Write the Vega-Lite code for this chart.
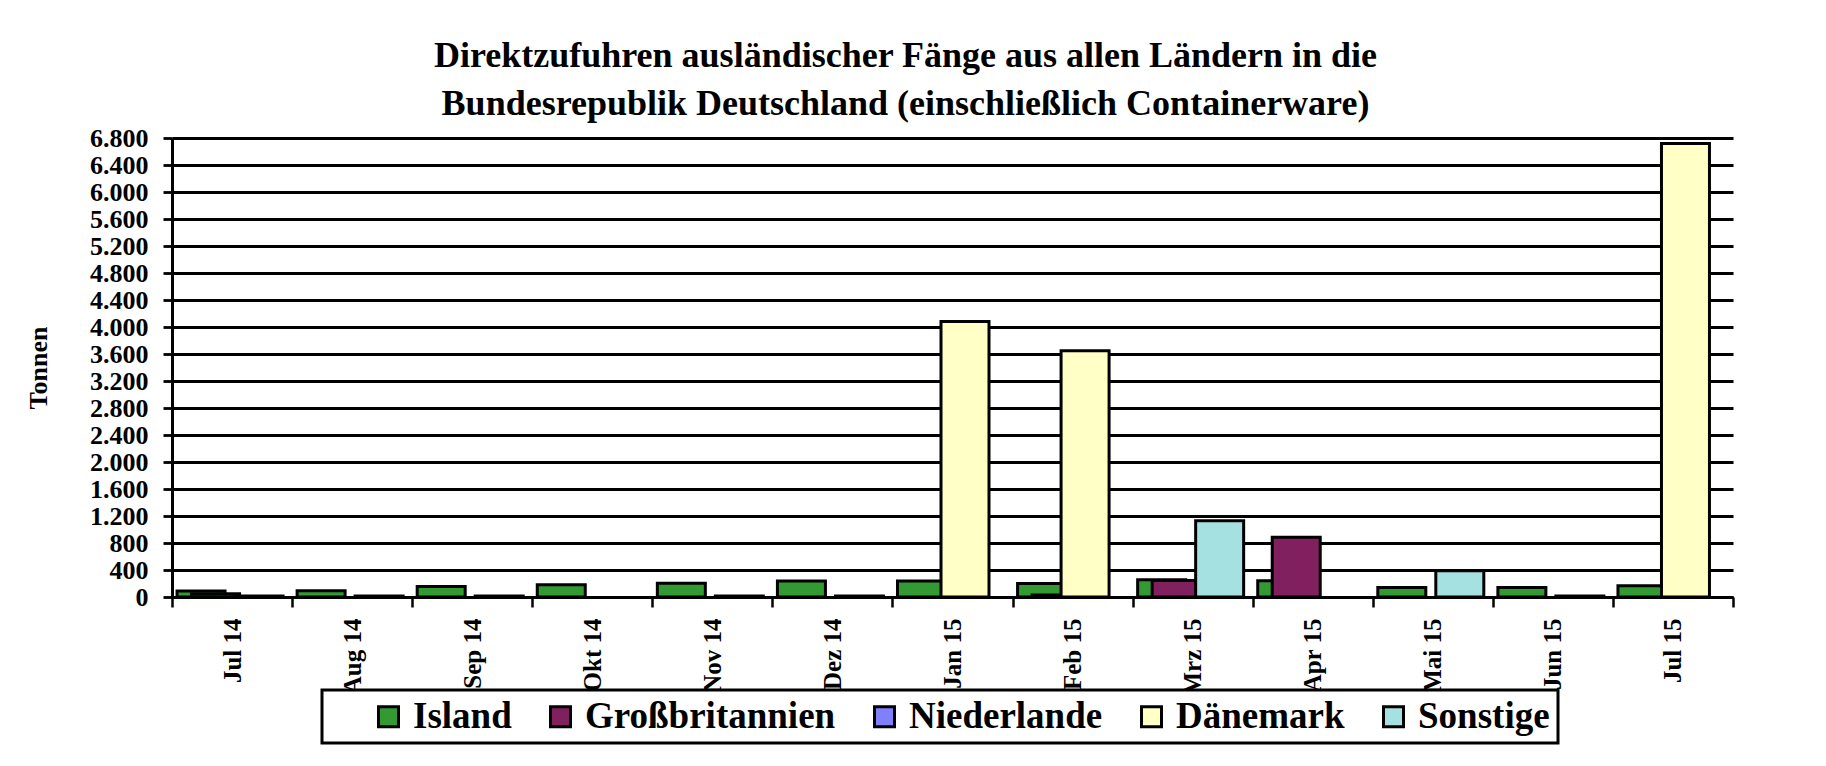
{
  "$schema": "https://vega.github.io/schema/vega-lite/v6.json",
  "autosize": {"type": "none"},
  "width": 1561,
  "height": 459,
  "padding": {"left": 172, "top": 138, "right": 93, "bottom": 169},
  "background": "white",
  "title": {
    "text": ["Direktzufuhren ausländischer Fänge aus allen Ländern in die", "Bundesrepublik Deutschland (einschließlich Containerware)"],
    "font": "Liberation Serif",
    "fontSize": 36,
    "fontWeight": "bold",
    "color": "black",
    "lineHeight": 48,
    "anchor": "middle",
    "frame": "group",
    "dx": -47,
    "offset": 2
  },
  "data": {
    "values": [
      {"month": "Jul 14", "series": "Island", "value": 90},
      {"month": "Jul 14", "series": "Großbritannien", "value": 50},
      {"month": "Jul 14", "series": "Sonstige", "value": 15},
      {"month": "Aug 14", "series": "Island", "value": 92},
      {"month": "Aug 14", "series": "Sonstige", "value": 15},
      {"month": "Sep 14", "series": "Island", "value": 155},
      {"month": "Sep 14", "series": "Sonstige", "value": 15},
      {"month": "Okt 14", "series": "Island", "value": 180},
      {"month": "Nov 14", "series": "Island", "value": 205},
      {"month": "Nov 14", "series": "Sonstige", "value": 15},
      {"month": "Dez 14", "series": "Island", "value": 237},
      {"month": "Dez 14", "series": "Sonstige", "value": 15},
      {"month": "Jan 15", "series": "Island", "value": 237},
      {"month": "Jan 15", "series": "Dänemark", "value": 4080},
      {"month": "Feb 15", "series": "Island", "value": 200},
      {"month": "Feb 15", "series": "Großbritannien", "value": 30},
      {"month": "Feb 15", "series": "Dänemark", "value": 3650},
      {"month": "Mrz 15", "series": "Island", "value": 255},
      {"month": "Mrz 15", "series": "Großbritannien", "value": 245},
      {"month": "Mrz 15", "series": "Sonstige", "value": 1130},
      {"month": "Apr 15", "series": "Island", "value": 240},
      {"month": "Apr 15", "series": "Großbritannien", "value": 885},
      {"month": "Mai 15", "series": "Island", "value": 140},
      {"month": "Mai 15", "series": "Sonstige", "value": 388},
      {"month": "Jun 15", "series": "Island", "value": 140},
      {"month": "Jun 15", "series": "Sonstige", "value": 15},
      {"month": "Jul 15", "series": "Island", "value": 168},
      {"month": "Jul 15", "series": "Dänemark", "value": 6720}
    ]
  },
  "encoding": {
    "x": {
      "field": "month",
      "type": "nominal",
      "sort": ["Jul 14", "Aug 14", "Sep 14", "Okt 14", "Nov 14", "Dez 14", "Jan 15", "Feb 15", "Mrz 15", "Apr 15", "Mai 15", "Jun 15", "Jul 15"],
      "scale": {"paddingInner": 0, "paddingOuter": 0},
      "axis": {
        "title": null,
        "tickBand": "extent",
        "labelAngle": 270,
        "labelFontSize": 25,
        "labelFontWeight": "bold",
        "labelColor": "black",
        "labelPadding": 11,
        "tickSize": 10,
        "tickWidth": 2.5,
        "tickColor": "black",
        "domainColor": "black",
        "domainWidth": 3,
        "grid": false
      }
    },
    "y": {
      "field": "value",
      "type": "quantitative",
      "scale": {"domain": [0, 6800], "nice": false, "zero": true},
      "axis": {
        "title": "Tonnen",
        "titleFontSize": 26,
        "titleFontWeight": "bold",
        "titleColor": "black",
        "titlePadding": 38,
        "values": [0, 400, 800, 1200, 1600, 2000, 2400, 2800, 3200, 3600, 4000, 4400, 4800, 5200, 5600, 6000, 6400, 6800],
        "labelExpr": "replace(format(datum.value, ','), ',', '.')",
        "labelFontSize": 26,
        "labelFontWeight": "bold",
        "labelColor": "black",
        "labelPadding": 15,
        "grid": true,
        "gridColor": "black",
        "gridWidth": 2.8,
        "gridOpacity": 1,
        "tickSize": 9,
        "tickWidth": 2.8,
        "tickColor": "black",
        "domainColor": "black",
        "domainWidth": 3
      }
    },
    "color": {
      "field": "series",
      "type": "nominal",
      "scale": {
        "domain": ["Island", "Großbritannien", "Niederlande", "Dänemark", "Sonstige"],
        "range": ["#339933", "#80205F", "#8080FF", "#FFFFC6", "#A6E1E1"]
      },
      "legend": {
        "orient": "none",
        "legendX": 150,
        "legendY": 552,
        "direction": "horizontal",
        "title": " ",
        "titleOrient": "left",
        "titleFontSize": 10,
        "titlePadding": 40,
        "labelFontSize": 37,
        "labelFontWeight": "bold",
        "labelColor": "black",
        "labelOffset": 6,
        "labelLimit": 0,
        "symbolType": "square",
        "symbolSize": 400,
        "symbolStrokeColor": "black",
        "symbolStrokeWidth": 3,
        "symbolOpacity": 1,
        "columnPadding": 30,
        "fillColor": "white",
        "strokeColor": "black",
        "padding": 8,
        "values": ["Island", "Großbritannien", "Niederlande", "Dänemark", "Sonstige"]
      }
    }
  },
  "layer": [
    {"transform": [{"filter": "datum.series === 'Island'"}], "mark": {"type": "bar", "width": 48, "xOffset": -31, "stroke": "black", "strokeWidth": 3}},
    {"transform": [{"filter": "datum.series === 'Großbritannien'"}], "mark": {"type": "bar", "width": 48, "xOffset": -16.5, "stroke": "black", "strokeWidth": 3}},
    {"transform": [{"filter": "datum.series === 'Niederlande'"}], "mark": {"type": "bar", "width": 48, "xOffset": -2, "stroke": "black", "strokeWidth": 3}},
    {"transform": [{"filter": "datum.series === 'Dänemark'"}], "mark": {"type": "bar", "width": 48, "xOffset": 12.5, "stroke": "black", "strokeWidth": 3}},
    {"transform": [{"filter": "datum.series === 'Sonstige'"}], "mark": {"type": "bar", "width": 48, "xOffset": 27, "stroke": "black", "strokeWidth": 3}}
  ],
  "config": {
    "font": "Liberation Serif",
    "view": {"stroke": null},
    "legend": {"strokeWidth": 3}
  }
}
